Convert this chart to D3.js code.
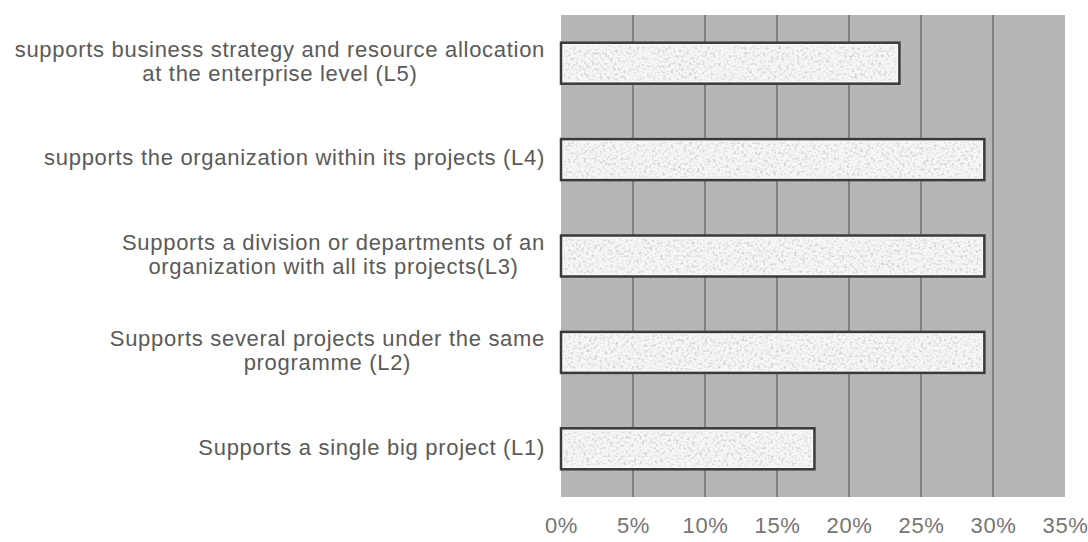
<!DOCTYPE html>
<html>
<head>
<meta charset="utf-8">
<script src="https://cdn.jsdelivr.net/npm/d3@7"></script>
<style>
  body { margin: 0; background: #ffffff; }
  text { font-family: "Liberation Sans", Arial, sans-serif; }
</style>
</head>
<body>
<svg id="chart" width="1088" height="542"></svg>
<script>
// Support levels, top to bottom; "\n" marks a line break in the label
const categories = [
  "supports business strategy and resource allocation\nat the enterprise level (L5)",
  "supports the organization within its projects (L4)",
  "Supports a division or departments of an\norganization with all its projects(L3)",
  "Supports several projects under the same\nprogramme (L2)",
  "Supports a single big  project (L1)"
];
// Share of respondents, percent
const values = [23.5, 29.4, 29.4, 29.4, 17.6];
// Axis ticks
const tickValues = [0, 5, 10, 15, 20, 25, 30, 35];
const tickLabels = ["0%", "5%", "10%", "15%", "20%", "25%", "30%", "35%"];

const svg = d3.select("#chart");
const plot = { left: 561, right: 1065, top: 15, bottom: 497 };

const x = d3.scaleLinear().domain([0, 35]).range([plot.left, plot.right]);
const y = d3.scaleBand().domain(categories).range([plot.top, plot.bottom])
  .paddingInner(0.575).paddingOuter(0.2875);

// Speckled fill used inside the bars
const defs = svg.append("defs");
const f = defs.append("filter").attr("id", "speckle")
  .attr("x", 0).attr("y", 0).attr("width", 1).attr("height", 1);
f.append("feTurbulence").attr("type", "fractalNoise")
  .attr("baseFrequency", "0.38").attr("numOctaves", 2).attr("seed", 7).attr("result", "noise");
f.append("feColorMatrix").attr("in", "noise").attr("type", "matrix")
  .attr("values", "0 0 0 0 0.62  0 0 0 0 0.62  0 0 0 0 0.62  3.0 0 0 0 -1.45")
  .attr("result", "spots");
f.append("feComposite").attr("in", "spots").attr("in2", "SourceGraphic").attr("operator", "in");

// Plot background
svg.append("rect")
  .attr("x", plot.left).attr("y", plot.top)
  .attr("width", plot.right - plot.left).attr("height", plot.bottom - plot.top)
  .attr("fill", "#b6b6b6");

// Vertical gridlines
svg.append("g")
  .selectAll("line")
  .data(tickValues.filter(v => v > 0 && v < 35))
  .join("line")
  .attr("x1", d => x(d)).attr("x2", d => x(d))
  .attr("y1", plot.top).attr("y2", plot.bottom)
  .attr("stroke", "#707070").attr("stroke-width", 1.5);

// Bars
const bars = svg.append("g");
bars.selectAll("rect.bar")
  .data(values)
  .join("rect")
  .attr("class", "bar")
  .attr("x", x(0))
  .attr("y", (d, i) => y(categories[i]))
  .attr("width", d => x(d) - x(0))
  .attr("height", y.bandwidth())
  .attr("fill", "#f6f6f6")
  .attr("stroke", "#3a3a3a")
  .attr("stroke-width", 2.5);
bars.selectAll("rect.tex")
  .data(values)
  .join("rect")
  .attr("class", "tex")
  .attr("x", x(0) + 3)
  .attr("y", (d, i) => y(categories[i]) + 3)
  .attr("width", d => x(d) - x(0) - 6)
  .attr("height", y.bandwidth() - 6)
  .attr("fill", "#ffffff")
  .attr("filter", "url(#speckle)");

// X axis tick labels
const xAxis = d3.axisBottom(x)
  .tickValues(tickValues)
  .tickFormat((d, i) => tickLabels[i])
  .tickSize(0).tickPadding(0);
const gx = svg.append("g").attr("transform", `translate(0,${plot.bottom + 20})`).call(xAxis);
gx.select(".domain").remove();
gx.selectAll("text")
  .attr("font-size", 22).attr("fill", "#757575")
  .attr("letter-spacing", 0.6)
  .attr("font-family", "\"Liberation Sans\", Arial, sans-serif");

// Category labels: block right-aligned to the plot, lines centred within the block
const labelRight = 545, lineGap = 24, fontSize = 22;
const lg = svg.append("g");
categories.forEach(cat => {
  const lines = cat.split("\n");
  const cy = y(cat) + y.bandwidth() / 2 - 2;
  const t = lg.append("text")
    .attr("font-size", fontSize).attr("fill", "#5a5a5a")
    .attr("letter-spacing", 0.7)
    .attr("text-anchor", "middle");
  const spans = lines.map((ln, i) => t.append("tspan")
    .attr("y", cy + (i - (lines.length - 1) / 2) * lineGap)
    .attr("dy", "0.35em")
    .text(ln));
  const maxW = d3.max(spans, s => s.node().getComputedTextLength());
  spans.forEach(s => s.attr("x", labelRight - maxW / 2));
});
</script>
</body>
</html>
